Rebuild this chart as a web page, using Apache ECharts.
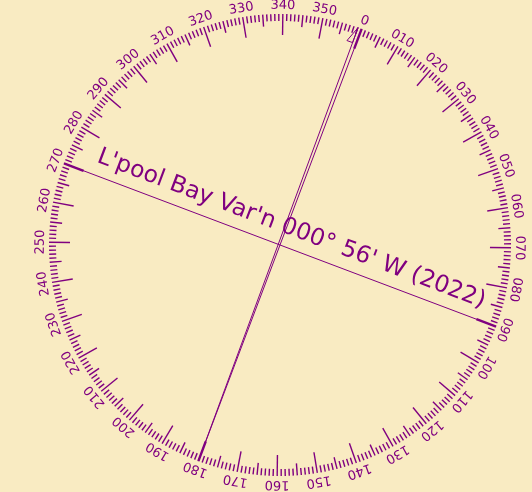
<!DOCTYPE html>
<html><head><meta charset="utf-8">
<script src="https://cdn.jsdelivr.net/npm/echarts@6/dist/echarts.min.js"></script>
<style>html,body{margin:0;padding:0;background:#f9ebc2}#c{width:532px;height:492px}</style>
</head><body><div id="c"></div><script>
// Compass rose data
const tickDegrees = Array.from({length: 360}, (_, i) => i);
const labelDegrees = [0,10,20,30,40,50,60,70,80,90,100,110,120,130,140,150,160,170,180,190,200,210,220,230,240,250,260,270,280,290,300,310,320,330,340,350];
const labelTexts = ['0','010','020','030','040','050','060','070','080','090','100','110','120','130','140','150','160','170','180','190','200','210','220','230','240','250','260','270','280','290','300','310','320','330','340','350'];
const roseRotation = 20.7;          // degrees the rose is turned clockwise
const magneticVariation = -56/60;   // 0° 56' W
const titleText = "L'pool Bay Var'n 000° 56' W (2022)";

const R = 231;
const PURPLE = '#800080';
const chart = echarts.init(document.getElementById('c'), null, {renderer: 'canvas'});

function tickLen(d){ return d % 10 === 0 ? 21 : (d % 5 === 0 ? 12 : 7); }

chart.setOption({
  backgroundColor: '#f9ebc2',
  animation: false,
  polar: {center: [280, 245], radius: R},
  angleAxis: {type: 'value', min: 0, max: 360, startAngle: 90 - roseRotation, clockwise: true, show: false},
  radiusAxis: {type: 'value', min: 0, max: R, show: false},
  series: [
    {
      type: 'custom', coordinateSystem: 'polar',
      data: tickDegrees.map(d => [R, d]),
      renderItem: function(params, api){
        const d = api.value(1);
        const p1 = api.coord([R, d]);
        const p2 = api.coord([R - tickLen(d), d]);
        const cardinal = d % 90 === 0;
        return {type: 'line', shape: {x1: p1[0], y1: p1[1], x2: p2[0], y2: p2[1]},
          style: {stroke: PURPLE, lineWidth: cardinal ? 2.4 : 1.4}};
      }
    },
    {
      type: 'custom', coordinateSystem: 'polar',
      data: labelDegrees.map((d, i) => [R + 8.5, d, labelTexts[i]]),
      renderItem: function(params, api){
        const d = api.value(1);
        const p = api.coord([api.value(0), d]);
        return {type: 'text', x: p[0], y: p[1],
          rotation: -(d + roseRotation) * Math.PI / 180,
          style: {text: labelTexts[params.dataIndex], fill: PURPLE, font: '13px "DejaVu Sans"', align: 'center', verticalAlign: 'middle'}};
      }
    },
    {
      type: 'custom', coordinateSystem: 'polar',
      data: [[R, 0]],
      renderItem: function(params, api){
        const c = api.coord([0, 0]);
        const w = api.coord([R, 270]), e = api.coord([R, 90]);
        const s = api.coord([R, 180]), n = api.coord([R, 0]);
        const m = api.coord([R, 360 + magneticVariation]);
        // half arrowhead on magnetic line
        const dx = m[0] - s[0], dy = m[1] - s[1];
        const L = Math.hypot(dx, dy), ux = dx / L, uy = dy / L;
        const b = [m[0] - ux * 16, m[1] - uy * 16];
        const lft = [b[0] + uy * 6, b[1] - ux * 6];
        // title position
        const ex = (e[0] - w[0]) / (2 * R), ey = (e[1] - w[1]) / (2 * R);
        const nx = ey, ny = -ex;
        const tx = c[0] + ex * 5 + nx * 19, ty = c[1] + ey * 5 + ny * 19;
        return {type: 'group', children: [
          {type: 'line', shape: {x1: w[0], y1: w[1], x2: e[0], y2: e[1]}, style: {stroke: PURPLE, lineWidth: 1}},
          {type: 'line', shape: {x1: s[0], y1: s[1], x2: n[0], y2: n[1]}, style: {stroke: PURPLE, lineWidth: 1}},
          {type: 'line', shape: {x1: s[0], y1: s[1], x2: m[0], y2: m[1]}, style: {stroke: PURPLE, lineWidth: 1}},
          {type: 'polygon', shape: {points: [m, b, lft]}, style: {stroke: PURPLE, fill: 'none', lineWidth: 1}},
          {type: 'text', x: tx, y: ty, rotation: -Math.atan2(ey, ex),
            style: {text: titleText, fill: PURPLE, font: '23.5px "DejaVu Sans"', align: 'center', verticalAlign: 'middle'}}
        ]};
      }
    }
  ]
});
</script></body></html>
